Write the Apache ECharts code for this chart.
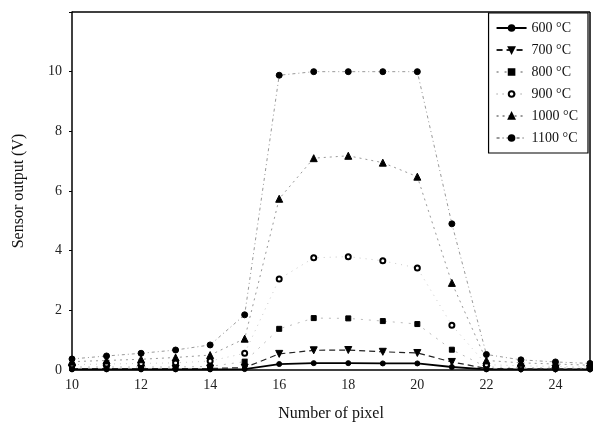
<!DOCTYPE html>
<html>
<head>
<meta charset="utf-8">
<script src="https://cdn.jsdelivr.net/npm/echarts@6/dist/echarts.min.js"></script>
<style>
  html, body { margin: 0; padding: 0; background: #fff; }
  #chart { width: 593px; height: 430px; }
</style>
</head>
<body>
<div id="chart"></div>
<script>
// pixel numbers along the x axis
var pixels = [10, 11, 12, 13, 14, 15, 16, 17, 18, 19, 20, 21, 22, 23, 24, 25];

// sensor output (V) per temperature
var t600  = [0.02, 0.02, 0.02, 0.02, 0.02, 0.03, 0.20, 0.23, 0.23, 0.22, 0.22, 0.10, 0.02, 0.02, 0.02, 0.02];
var t700  = [0.05, 0.05, 0.05, 0.05, 0.05, 0.08, 0.54, 0.66, 0.67, 0.61, 0.57, 0.27, 0.05, 0.04, 0.04, 0.04];
var t800  = [0.10, 0.10, 0.10, 0.10, 0.12, 0.28, 1.38, 1.74, 1.73, 1.64, 1.54, 0.68, 0.10, 0.08, 0.07, 0.06];
var t900  = [0.18, 0.20, 0.22, 0.24, 0.30, 0.56, 3.05, 3.76, 3.80, 3.66, 3.42, 1.50, 0.18, 0.14, 0.12, 0.10];
var t1000 = [0.28, 0.32, 0.36, 0.42, 0.50, 1.05, 5.74, 7.10, 7.18, 6.95, 6.48, 2.92, 0.32, 0.24, 0.20, 0.16];
var t1100 = [0.37, 0.47, 0.56, 0.67, 0.84, 1.85, 9.88, 10.0, 10.0, 10.0, 10.0, 4.90, 0.52, 0.34, 0.27, 0.22];

var names = ['600 °C', '700 °C', '800 °C', '900 °C', '1000 °C', '1100 °C'];
var xTicks = [10, 12, 14, 16, 18, 20, 22, 24];

var chart = echarts.init(document.getElementById('chart'));

function pairs(vals) {
    return pixels.map(function(p, i) { return [p, vals[i]]; });
}

function line(name, vals, symbol, size, lineStyle, extra) {
    var s = {
        name: name,
        type: 'line',
        data: pairs(vals),
        symbol: symbol,
        symbolSize: size,
        itemStyle: { color: '#000', borderColor: '#000', borderWidth: 1 },
        lineStyle: lineStyle,
        animation: false,
        z: 3
    };
    for (var k in extra) s[k] = extra[k];
    return s;
}

var serif = '"Liberation Serif", "DejaVu Serif", serif';

var option = {
    backgroundColor: '#fff',
    grid: { left: 72, right: 3, top: 12, bottom: 60 },
    legend: {
        orient: 'vertical',
        right: 5,
        top: 13,
        data: names,
        itemWidth: 30,
        itemHeight: 7,
        itemGap: 8,
        padding: [8, 10, 8, 7],
        borderColor: '#000',
        borderWidth: 1.2,
        backgroundColor: '#fff',
        textStyle: { fontFamily: serif, fontSize: 14, color: '#111' }
    },
    xAxis: {
        type: 'value',
        min: 10,
        max: 25,
        interval: 1,
        name: 'Number of pixel',
        nameLocation: 'middle',
        nameGap: 36,
        nameTextStyle: { fontFamily: serif, fontSize: 16, color: '#111' },
        axisLine: { lineStyle: { color: '#000', width: 1.5 } },
        axisTick: { show: false },
        splitLine: { show: false },
        axisLabel: {
            fontFamily: serif, fontSize: 14, color: '#222', margin: 8,
            formatter: function(v) { return xTicks.indexOf(v) >= 0 ? String(v) : ''; }
        }
    },
    yAxis: {
        type: 'value',
        min: 0,
        max: 12,
        interval: 2,
        name: 'Sensor output (V)',
        nameLocation: 'middle',
        nameGap: 45,
        nameTextStyle: { fontFamily: serif, fontSize: 16, color: '#111' },
        axisLine: { show: true, lineStyle: { color: '#000', width: 1.5 } },
        axisTick: { show: true, length: 3, lineStyle: { color: '#000' } },
        splitLine: { show: false },
        axisLabel: {
            fontFamily: serif, fontSize: 14, color: '#222', margin: 10,
            formatter: function(v) { return v === 12 ? '' : String(v); }
        }
    },
    series: [
        line(names[0], t600, 'circle', 5, { color: '#000', width: 1.8 }),
        line(names[1], t700, 'triangle', 7, { color: '#222', width: 1.2, type: [6, 4] }, { symbolRotate: 180 }),
        line(names[2], t800, 'rect', 5, { color: '#aaa', width: 0.8, type: [2, 6] }),
        line(names[3], t900, 'emptyCircle', 5, { color: '#bbb', width: 0.8, type: [1, 5] }, { itemStyle: { color: '#000', borderColor: '#000', borderWidth: 1.6 } }),
        line(names[4], t1000, 'triangle', 7, { color: '#999', width: 1, type: [2, 4] }),
        line(names[5], t1100, 'circle', 6, { color: '#999', width: 1, type: [3, 3, 1, 3] }),
        {
            // frame on top and right of the plot
            type: 'line',
            data: [],
            markLine: {
                silent: true,
                symbol: 'none',
                label: { show: false },
                lineStyle: { color: '#000', width: 1.5, type: 'solid' },
                data: [{ yAxis: 12 }, { xAxis: 25 }]
            }
        }
    ]
};

chart.setOption(option);
</script>
</body>
</html>
